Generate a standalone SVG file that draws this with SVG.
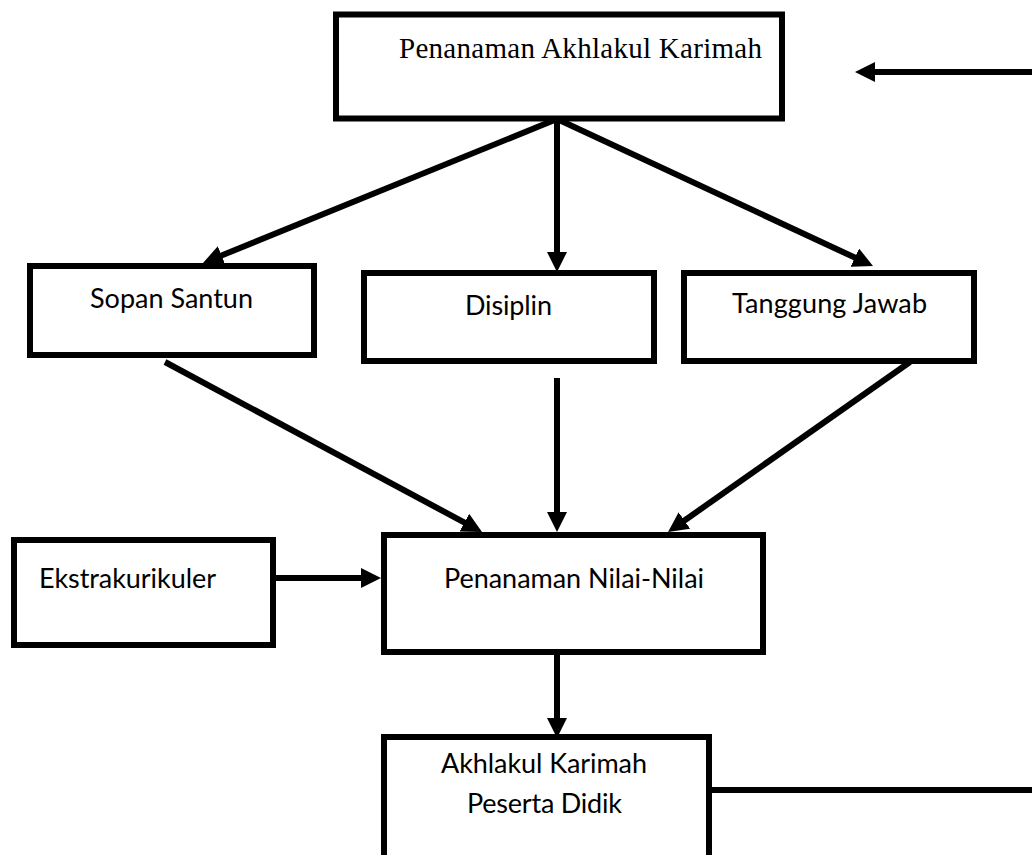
<svg xmlns="http://www.w3.org/2000/svg" width="1032" height="855" viewBox="0 0 1032 855">
<defs>
<style>
.box{fill:#fff;stroke:#000;stroke-width:6}
.con{stroke:#000;stroke-width:6;fill:none}
.arr{marker-end:url(#ah)}
.t{font-family:Lato,"Liberation Sans",sans-serif;font-size:27px;fill:#000}
.ts{font-family:"Liberation Serif","Times New Roman",serif;font-size:29px;fill:#000}
</style>
<marker id="ah" markerUnits="userSpaceOnUse" markerWidth="20" markerHeight="20" viewBox="0 0 20 20" refX="6" refY="10" orient="auto">
<path d="M0,0 L20,10 L0,20 z" fill="#000"/>
</marker>
</defs>
<rect width="1032" height="855" fill="#fff"/>
<g id="connectors">
<line class="con arr" x1="1032" y1="72" x2="869" y2="72"/>
<line class="con arr" x1="557" y1="119" x2="216" y2="257.7"/>
<line class="con arr" x1="557" y1="119" x2="557" y2="258"/>
<line class="con arr" x1="557" y1="119" x2="860.3" y2="260.1"/>
<line class="con arr" x1="165" y1="362" x2="469.7" y2="525.4"/>
<line class="con arr" x1="557" y1="378" x2="557" y2="518"/>
<line class="con arr" x1="910" y1="362" x2="679.5" y2="524"/>
<line class="con arr" x1="276" y1="578" x2="367" y2="578"/>
<line class="con arr" x1="557" y1="655" x2="557" y2="724"/>
<line class="con" x1="709" y1="790" x2="1032" y2="790"/>
</g>
<g id="node-penanaman-akhlakul">
<rect class="box" x="336" y="14.5" width="446" height="104"/>
<text class="ts" x="399" y="58" textLength="363">Penanaman Akhlakul Karimah</text>
</g>
<g id="node-sopan-santun">
<rect class="box" x="30" y="266" width="284" height="89"/>
<text class="t" x="90" y="308" textLength="163">Sopan Santun</text>
</g>
<g id="node-disiplin">
<rect class="box" x="364" y="273" width="290" height="88"/>
<text class="t" x="465" y="315" textLength="87">Disiplin</text>
</g>
<g id="node-tanggung-jawab">
<rect class="box" x="684" y="273" width="290" height="88"/>
<text class="t" x="732" y="313" textLength="195">Tanggung Jawab</text>
</g>
<g id="node-ekstrakurikuler">
<rect class="box" x="14" y="540" width="259" height="105"/>
<text class="t" x="39" y="588" textLength="177">Ekstrakurikuler</text>
</g>
<g id="node-penanaman-nilai">
<rect class="box" x="384" y="535" width="379" height="117"/>
<text class="t" x="444" y="588" textLength="260">Penanaman Nilai-Nilai</text>
</g>
<g id="node-akhlakul-karimah">
<rect class="box" x="384" y="737" width="325" height="130"/>
<text class="t" x="441" y="773" textLength="206">Akhlakul Karimah</text>
<text class="t" x="467" y="813" textLength="155">Peserta Didik</text>
</g>
</svg>
